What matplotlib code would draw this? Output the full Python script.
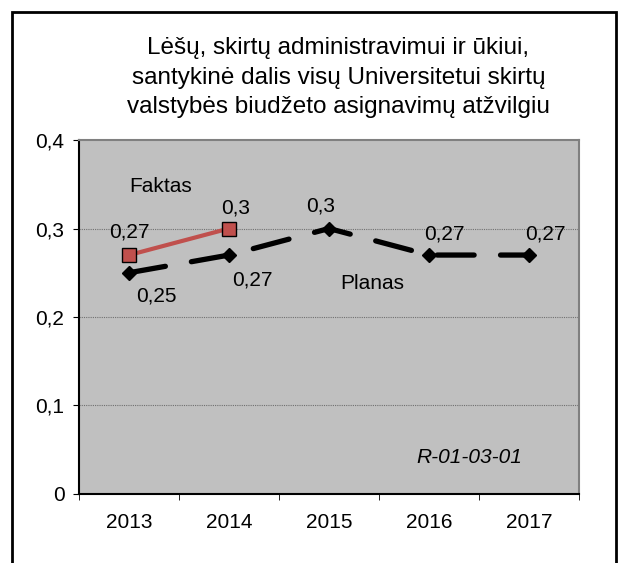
import numpy as np
import matplotlib.pyplot as plt
from matplotlib.patches import Rectangle

plt.rcParams['font.family'] = ['Liberation Sans', 'DejaVu Sans']

years = ['2013', '2014', '2015', '2016', '2017']
faktas = [0.27, 0.30]
planas = [0.25, 0.27, 0.30, 0.27, 0.27]
faktas_labels = ['0,27', '0,3']
planas_labels = ['0,25', '0,27', '0,3', '0,27', '0,27']
yticks = [0, 0.1, 0.2, 0.3, 0.4]
ytick_labels = ['0', '0,1', '0,2', '0,3', '0,4']

fs = 15

fig = plt.figure(figsize=(6.3, 5.63), dpi=100)
ax = fig.add_axes([0.1254, 0.1226, 0.7937, 0.6287])
ax.set_facecolor('#C0C0C0')

x = np.arange(len(years))
ax.plot(x, planas, color='black', lw=3.8, linestyle=(0, (7, 5)), dash_capstyle='round',
        marker='D', markersize=7, markerfacecolor='black', markeredgecolor='black', zorder=3)
ax.plot(x[:len(faktas)], faktas, color='#C0504D', lw=3,
        marker='s', markersize=9.5, markerfacecolor='#C0504D', markeredgecolor='black',
        markeredgewidth=1, zorder=4)

# data labels
f_offsets = [(0, 16.5), (5, 15)]
for i, (lab, off) in enumerate(zip(faktas_labels, f_offsets)):
    ax.annotate(lab, (x[i], faktas[i]), xytext=off, textcoords='offset points',
                ha='center', va='center', fontsize=fs)
p_offsets = [(20, -16.5), (16.5, -18), (-6, 16.5), (11, 15), (12, 15)]
for i, (lab, off) in enumerate(zip(planas_labels, p_offsets)):
    ax.annotate(lab, (x[i], planas[i]), xytext=off, textcoords='offset points',
                ha='center', va='center', fontsize=fs)

ax.text(0.32, 0.347, 'Faktas', ha='center', va='center', fontsize=fs)
ax.text(2.43, 0.238, 'Planas', ha='center', va='center', fontsize=fs)
ax.text(3.4, 0.041, 'R-01-03-01', ha='center', va='center', fontsize=fs, style='italic')

ax.set_xlim(-0.5, len(years) - 0.5)
ax.set_ylim(0, 0.4)
ax.set_yticks(yticks)
ax.set_yticklabels(ytick_labels, fontsize=fs)
ax.set_xticks(x)
ax.set_xticklabels(years, fontsize=fs)
ax.set_xticks(np.arange(-0.5, len(years), 1), minor=True)
ax.tick_params(axis='x', which='major', length=0, pad=14)
ax.tick_params(axis='x', which='minor', length=4.5, direction='out', color='black')
ax.tick_params(axis='y', length=4.5, direction='out', color='black', pad=6)

for yv in yticks[1:-1]:
    ax.axhline(yv, color='#707070', lw=0.8, linestyle=(0, (1, 1)), zorder=1)

ax.spines['left'].set_color('black')
ax.spines['bottom'].set_color('black')
ax.spines['top'].set_color('#808080')
ax.spines['right'].set_color('#808080')
for s in ax.spines.values():
    s.set_linewidth(1.5)

fig.text(0.537, 0.8615, 'Lėšų, skirtų administravimui ir ūkiui,\n'
         'santykinė dalis visų Universitetui skirtų\n'
         'valstybės biudžeto asignavimų atžvilgiu',
         ha='center', va='center', fontsize=17.5, linespacing=1.44)

fig.patches.append(Rectangle((12 / 630, -0.05), 604 / 630, 1 - 12 / 563 + 0.05,
                             transform=fig.transFigure, fill=False, edgecolor='black',
                             lw=2, clip_on=False))

fig.savefig('out.png', dpi=100)
